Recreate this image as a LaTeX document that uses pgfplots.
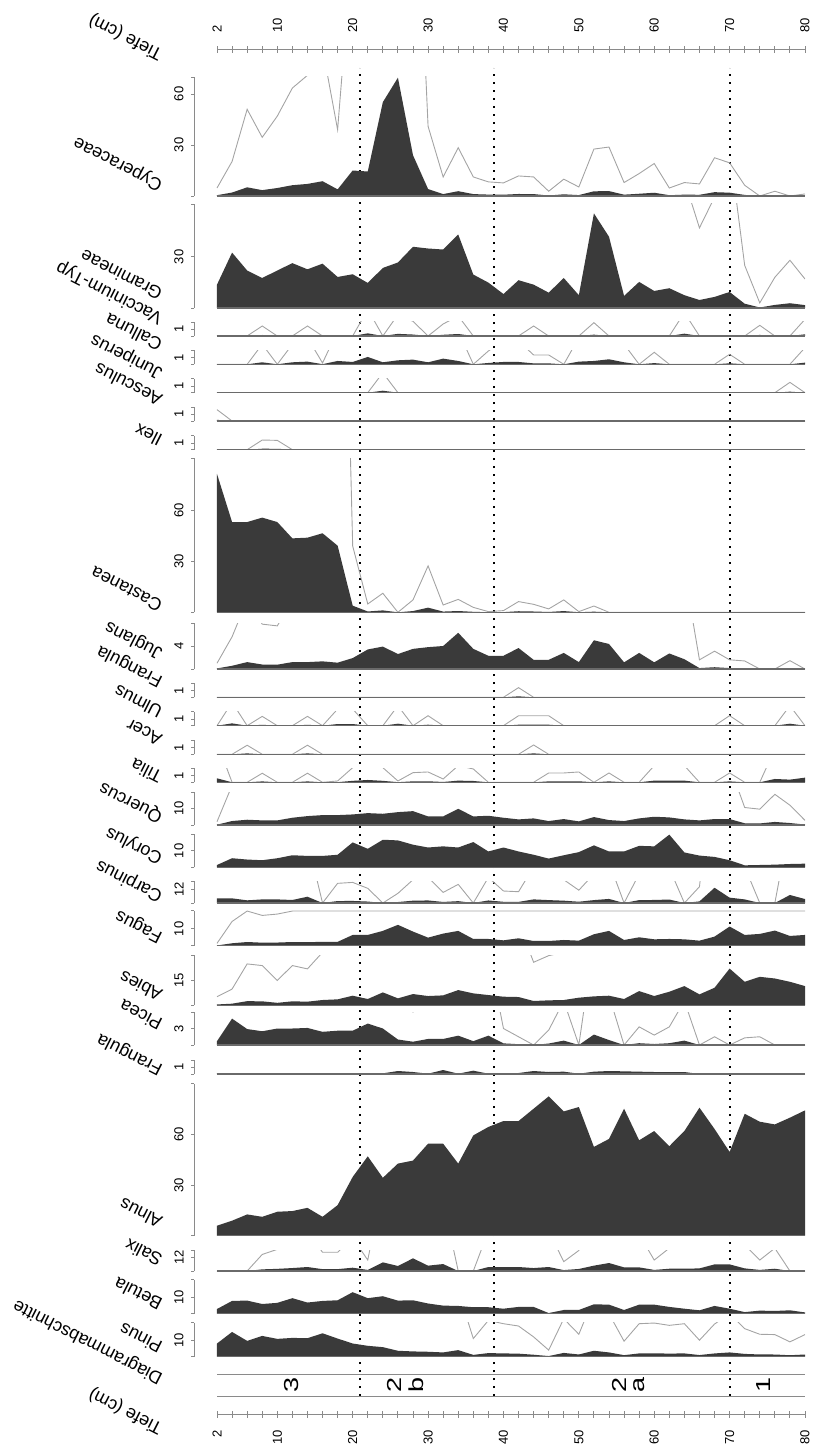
\documentclass[border=0pt]{standalone}
\usepackage{pgfplots}
\usepackage{pgfplotstable}
\pgfplotsset{compat=1.18}
\usepackage{fontspec}
\setmainfont{Liberation Sans}
\definecolor{silh}{HTML}{3A3A3A}
\definecolor{exag}{HTML}{A4A4A4}
\definecolor{axg}{HTML}{8A8A8A}
\definecolor{basec}{HTML}{6A6A6A}
\newcommand{\tfont}{\fontsize{6.5}{7}\selectfont}
\newcommand{\lfont}{\fontsize{9}{10}\selectfont}
\newcommand{\zfont}{\fontsize{13.5}{14}\selectfont}

\pgfplotstableread[row sep=\\]{d v\\2 0.47\\4 2.03\\6 5.1\\8 3.45\\10 4.7\\12 6.35\\14 7.1\\16 8.7\\18 3.9\\20 15\\22 14.4\\24 55.2\\26 69.6\\28 24\\30 4.1\\32 1.12\\34 2.84\\36 1.12\\38 0.83\\40 0.77\\42 1.18\\44 1.12\\46 0.28\\48 0.99\\50 0.53\\52 2.76\\54 2.88\\56 0.79\\58 1.32\\60 1.91\\62 0.47\\64 0.79\\66 0.71\\68 2.25\\70 1.95\\72 0.63\\74 0\\76 0.28\\78 0\\80 0.12\\}\dCyp
\pgfplotstableread[row sep=\\]{d v\\2 13.7\\4 32.5\\6 22\\8 17.6\\10 22\\12 26.3\\14 22.7\\16 26\\18 18.2\\20 19.8\\22 14.7\\24 23.5\\26 26.7\\28 35.9\\30 34.9\\32 34.3\\34 43.1\\36 19.6\\38 14.9\\40 8.2\\42 16.3\\44 13.7\\46 9\\48 17.6\\50 7.5\\52 55.5\\54 41.8\\56 7.1\\58 15.3\\60 10\\62 11.6\\64 7.5\\66 4.7\\68 6.5\\70 9.4\\72 2.5\\74 0.3\\76 1.8\\78 2.8\\80 1.7\\}\dGra
\pgfplotstableread[row sep=\\]{d v\\2 0\\4 0\\6 0\\8 0.15\\10 0\\12 0\\14 0.15\\16 0\\18 0\\20 0\\22 0.4\\24 0\\26 0.32\\28 0.22\\30 0\\32 0.18\\34 0.3\\36 0\\38 0\\40 0\\42 0\\44 0.15\\46 0\\48 0\\50 0\\52 0.2\\54 0\\56 0\\58 0\\60 0\\62 0\\64 0.35\\66 0\\68 0\\70 0\\72 0\\74 0.16\\76 0\\78 0\\80 0.25\\}\dVac
\pgfplotstableread[row sep=\\]{d v\\2 0\\4 0\\6 0\\8 0.3\\10 0\\12 0.3\\14 0.4\\16 0.02\\18 0.5\\20 0.35\\22 1.1\\24 0.3\\26 0.6\\28 0.7\\30 0.3\\32 0.85\\34 0.5\\36 0\\38 0.2\\40 0.35\\42 0.35\\44 0.14\\46 0.14\\48 0\\50 0.4\\52 0.5\\54 0.75\\56 0.3\\58 0\\60 0.18\\62 0\\64 0\\66 0\\68 0\\70 0.15\\72 0\\74 0\\76 0\\78 0\\80 0.25\\}\dCal
\pgfplotstableread[row sep=\\]{d v\\2 0\\4 0\\6 0\\8 0\\10 0\\12 0\\14 0\\16 0\\18 0\\20 0\\22 0\\24 0.3\\26 0\\28 0\\30 0\\32 0\\34 0\\36 0\\38 0\\40 0\\42 0\\44 0\\46 0\\48 0\\50 0\\52 0\\54 0\\56 0\\58 0\\60 0\\62 0\\64 0\\66 0\\68 0\\70 0\\72 0\\74 0\\76 0\\78 0.155\\80 0\\}\dJun
\pgfplotstableread[row sep=\\]{d v\\2 0.17\\4 0\\6 0\\8 0\\10 0\\12 0\\14 0\\16 0\\18 0\\20 0\\22 0\\24 0\\26 0\\28 0\\30 0\\32 0\\34 0\\36 0\\38 0\\40 0\\42 0\\44 0\\46 0\\48 0\\50 0\\52 0\\54 0\\56 0\\58 0\\60 0\\62 0\\64 0\\66 0\\68 0\\70 0\\72 0\\74 0\\76 0\\78 0\\80 0\\}\dAes
\pgfplotstableread[row sep=\\]{d v\\2 0\\4 0\\6 0\\8 0.145\\10 0.14\\12 0\\14 0\\16 0\\18 0\\20 0\\22 0\\24 0\\26 0\\28 0\\30 0\\32 0\\34 0\\36 0\\38 0\\40 0\\42 0\\44 0\\46 0\\48 0\\50 0\\52 0\\54 0\\56 0\\58 0\\60 0\\62 0\\64 0\\66 0\\68 0\\70 0\\72 0\\74 0\\76 0\\78 0\\80 0\\}\dIle
\pgfplotstableread[row sep=\\]{d v\\2 81.4\\4 53.1\\6 53.1\\8 55.7\\10 53.1\\12 43.5\\14 43.9\\16 46.5\\18 39.2\\20 3.9\\22 0.49\\24 1.12\\26 0\\28 0.73\\30 2.73\\32 0.43\\34 0.76\\36 0.29\\38 0.04\\40 0.1\\42 0.63\\44 0.47\\46 0.2\\48 0.73\\50 0.04\\52 0.37\\54 0\\56 0\\58 0\\60 0\\62 0\\64 0\\66 0\\68 0\\70 0\\72 0\\74 0\\76 0\\78 0\\80 0\\}\dCas
\pgfplotstableread[row sep=\\]{d v\\2 0.1\\4 0.56\\6 1.2\\8 0.78\\10 0.75\\12 1.2\\14 1.2\\16 1.33\\18 1.1\\20 1.9\\22 3.4\\24 3.9\\26 2.6\\28 3.5\\30 3.8\\32 4.0\\34 6.3\\36 3.5\\38 2.3\\40 2.3\\42 3.65\\44 1.6\\46 1.6\\48 2.8\\50 1.2\\52 5.0\\54 4.35\\56 1.16\\58 2.8\\60 1.16\\62 2.7\\64 1.7\\66 0.16\\68 0.31\\70 0.16\\72 0.14\\74 0\\76 0\\78 0.145\\80 0\\}\dJug
\pgfplotstableread[row sep=\\]{d v\\2 0\\4 0\\6 0\\8 0\\10 0\\12 0\\14 0\\16 0\\18 0\\20 0\\22 0\\24 0\\26 0\\28 0\\30 0\\32 0\\34 0\\36 0\\38 0\\40 0\\42 0.145\\44 0\\46 0\\48 0\\50 0\\52 0\\54 0\\56 0\\58 0\\60 0\\62 0\\64 0\\66 0\\68 0\\70 0\\72 0\\74 0\\76 0\\78 0\\80 0\\}\dFra
\pgfplotstableread[row sep=\\]{d v\\2 0\\4 0.35\\6 0\\8 0.14\\10 0\\12 0\\14 0.14\\16 0\\18 0.25\\20 0.25\\22 0\\24 0\\26 0.3\\28 0\\30 0.15\\32 0\\34 0\\36 0\\38 0\\40 0\\42 0.15\\44 0.15\\46 0.15\\48 0\\50 0\\52 0\\54 0\\56 0\\58 0\\60 0\\62 0\\64 0\\66 0\\68 0\\70 0.15\\72 0\\74 0\\76 0\\78 0.3\\80 0\\}\dUlm
\pgfplotstableread[row sep=\\]{d v\\2 0\\4 0\\6 0.136\\8 0\\10 0\\12 0\\14 0.136\\16 0\\18 0\\20 0\\22 0\\24 0\\26 0\\28 0\\30 0\\32 0\\34 0\\36 0\\38 0\\40 0\\42 0\\44 0.14\\46 0\\48 0\\50 0\\52 0\\54 0\\56 0\\58 0\\60 0\\62 0\\64 0\\66 0\\68 0\\70 0\\72 0\\74 0\\76 0\\78 0\\80 0\\}\dAce
\pgfplotstableread[row sep=\\]{d v\\2 0.6\\4 0\\6 0\\8 0.136\\10 0\\12 0\\14 0.136\\16 0\\18 0.02\\20 0.22\\22 0.35\\24 0.22\\26 0.02\\28 0.145\\30 0.155\\32 0.05\\34 0.25\\36 0.2\\38 0\\40 0\\42 0\\44 0\\46 0.14\\48 0.14\\50 0.155\\52 0\\54 0.14\\56 0\\58 0\\60 0.25\\62 0.25\\64 0.25\\66 0\\68 0\\70 0.14\\72 0\\74 0\\76 0.5\\78 0.4\\80 0.7\\}\dTil
\pgfplotstableread[row sep=\\]{d v\\2 0.2\\4 2.4\\6 3.2\\8 2.8\\10 2.8\\12 4.4\\14 5.4\\16 6\\18 6\\20 6.4\\22 7.2\\24 6.8\\26 7.8\\28 8.4\\30 5.2\\32 5.2\\34 9.8\\36 5.2\\38 5.6\\40 4.4\\42 3.4\\44 4\\46 2.4\\48 3.6\\50 2.2\\52 4.8\\54 3\\56 2.4\\58 4\\60 5\\62 4.6\\64 3.4\\66 2.8\\68 3.6\\70 3.6\\72 1.06\\74 0.96\\76 1.86\\78 1.2\\80 0.28\\}\dQue
\pgfplotstableread[row sep=\\]{d v\\2 1.4\\4 5.5\\6 4.7\\8 4.3\\10 5.5\\12 7.3\\14 6.9\\16 6.9\\18 7.6\\20 15.1\\22 11.2\\24 16.7\\26 16.3\\28 13.7\\30 12\\32 12.7\\34 12\\36 15.3\\38 9.6\\40 12\\42 9.6\\44 7.6\\46 5.3\\48 7.3\\50 9.2\\52 13.3\\54 9.6\\56 9.6\\58 13\\60 12.7\\62 19.8\\64 9\\66 7.1\\68 6.3\\70 4.3\\72 1.2\\74 1.4\\76 1.6\\78 2\\80 2.2\\}\dCor
\pgfplotstableread[row sep=\\]{d v\\2 4\\4 4\\6 2.3\\8 3.1\\10 3.1\\12 2.6\\14 5.4\\16 0\\18 1.69\\20 1.77\\22 1.26\\24 0\\26 0.83\\28 2.0\\30 2.2\\32 0.91\\34 1.6\\36 0\\38 2.2\\40 1.03\\42 0.97\\44 3.1\\46 2.5\\48 2.0\\50 1.1\\52 2.5\\54 3.5\\56 0\\58 2.5\\60 2.6\\62 3.0\\64 0\\66 1.4\\68 13.1\\70 4.6\\72 3.1\\74 0\\76 0\\78 6.9\\80 3.4\\}\dCar
\pgfplotstableread[row sep=\\]{d v\\2 0.14\\4 1.44\\6 2.2\\8 1.8\\10 1.88\\12 2.2\\14 2.1\\16 2.3\\18 2.3\\20 6.4\\22 6.4\\24 8.8\\26 12.4\\28 8.4\\30 4.8\\32 7.2\\34 8.8\\36 4\\38 4\\40 3.2\\42 4.4\\44 2.8\\46 2.8\\48 3.4\\50 3\\52 6.8\\54 8.8\\56 3.4\\58 5\\60 3.8\\62 4\\64 3.8\\66 3\\68 5.4\\70 11.4\\72 6.4\\74 7\\76 9\\78 5.8\\80 6.4\\}\dFag
\pgfplotstableread[row sep=\\]{d v\\2 0.52\\4 0.98\\6 2.5\\8 2.4\\10 1.5\\12 2.4\\14 2.2\\16 3.2\\18 3.6\\20 5.8\\22 3.8\\24 7.8\\26 4.2\\28 6.8\\30 5.6\\32 6\\34 9.2\\36 7.2\\38 6.2\\40 5.2\\42 5\\44 2.6\\46 3\\48 3.2\\50 4.6\\52 5.4\\54 5.8\\56 3.8\\58 8.6\\60 5.6\\62 8.2\\64 11.6\\66 6.6\\68 10.6\\70 22.2\\72 14.2\\74 17.2\\76 16.2\\78 14.2\\80 11.6\\}\dAbi
\pgfplotstableread[row sep=\\]{d v\\2 0.7\\4 4.8\\6 2.9\\8 2.5\\10 3.0\\12 3.0\\14 3.1\\16 2.4\\18 2.6\\20 2.6\\22 3.9\\24 3.0\\26 1.0\\28 0.6\\30 1.1\\32 1.1\\34 1.7\\36 0.7\\38 1.7\\40 0.3\\42 0.15\\44 0\\46 0.27\\48 0.8\\50 0\\52 1.9\\54 0.9\\56 0\\58 0.33\\60 0.18\\62 0.33\\64 0.8\\66 0\\68 0.15\\70 0\\72 0.13\\74 0.15\\76 0\\78 0\\80 0\\}\dPic
\pgfplotstableread[row sep=\\]{d v\\2 0.1\\4 0.1\\6 0.15\\8 0.1\\10 0.1\\12 0.1\\14 0.1\\16 0.1\\18 0.1\\20 0.05\\22 0.05\\24 0.1\\26 0.45\\28 0.3\\30 0.05\\32 0.6\\34 0.05\\36 0.5\\38 0.05\\40 0.1\\42 0.15\\44 0.45\\46 0.3\\48 0.35\\50 0.05\\52 0.35\\54 0.45\\56 0.4\\58 0.35\\60 0.3\\62 0.3\\64 0.3\\66 0\\68 0\\70 0\\72 0\\74 0\\76 0\\78 0\\80 0\\}\dFrb
\pgfplotstableread[row sep=\\]{d v\\2 5.9\\4 8.9\\6 12.6\\8 11.2\\10 14.2\\12 14.6\\14 16.5\\16 11.2\\18 18.1\\20 34.8\\22 47\\24 34.3\\26 42.7\\28 44.5\\30 54.5\\32 54.5\\34 42.7\\36 59.4\\38 64.4\\40 67.9\\42 67.9\\44 75.2\\46 82.5\\48 73.6\\50 76.2\\52 52.6\\54 57.3\\56 75.2\\58 56.5\\60 62\\62 53\\64 62\\66 75.8\\68 63.2\\70 49.6\\72 72.2\\74 67.5\\76 65.9\\78 69.9\\80 74.2\\}\dAln
\pgfplotstableread[row sep=\\]{d v\\2 0\\4 0\\6 0\\8 1.45\\10 1.9\\12 2.6\\14 3.5\\16 1.64\\18 1.64\\20 2.9\\22 0.96\\24 7.6\\26 4.4\\28 11.1\\30 4.7\\32 6.1\\34 0\\36 0\\38 3.5\\40 3.5\\42 3.5\\44 2.6\\46 3.5\\48 0.82\\50 1.8\\52 4.7\\54 7\\56 3.2\\58 3.2\\60 0.96\\62 2.0\\64 2.0\\66 2.3\\68 5.8\\70 5.8\\72 2.3\\74 0.96\\76 2.0\\78 0\\80 0\\}\dSal
\pgfplotstableread[row sep=\\]{d v\\2 2.9\\4 7.9\\6 8.1\\8 6\\10 6.7\\12 9.6\\14 6.9\\16 7.9\\18 8.3\\20 13.3\\22 9.6\\24 10.8\\26 8.1\\28 8.3\\30 6.3\\32 5\\34 4.8\\36 4\\38 4\\40 3.1\\42 4.2\\44 4.2\\46 0.4\\48 2.3\\50 2.3\\52 5.8\\54 5.6\\56 2.3\\58 5.6\\60 5.6\\62 4.2\\64 3.1\\66 2.1\\68 4.8\\70 3.1\\72 1\\74 1.9\\76 1.7\\78 2.1\\80 0.8\\}\dBet
\pgfplotstableread[row sep=\\]{d v\\2 8\\4 15\\6 9.6\\8 12.6\\10 10.8\\12 11.4\\14 11.2\\16 14.2\\18 11\\20 8\\22 6.6\\24 5.8\\26 3.6\\28 3.2\\30 3\\32 2.6\\34 4\\36 1.1\\38 2.2\\40 2.0\\42 1.86\\44 1.2\\46 0.4\\48 2.3\\50 1.36\\52 3.6\\54 2.6\\56 0.94\\58 2.0\\60 2.04\\62 1.9\\64 2.0\\66 1.0\\68 1.98\\70 2.6\\72 1.7\\74 1.36\\76 1.34\\78 0.9\\80 1.34\\}\dPin

\tikzset{
  sil/.style={fill=silh, draw=none},
  ex/.style={exag, line width=0.45pt},
  lab/.style={rotate=153, anchor=north west, inner sep=0pt, font=\lfont},
  zl/.style={xscale=0.75, rotate=90, font=\zfont, inner sep=0pt},
  tk/.style={axg, line width=0.45pt},
  tlab/.style={rotate=90, font=\tfont, inner sep=0pt},
}
\pgfplotsset{
  panel/.style={scale only axis, width=305.5pt, xmin=-1.05, xmax=80, ymin=0,
    anchor=south west, clip mode=individual, hide axis},
  depth/.style={scale only axis, width=294pt, height=2pt, xmin=2, xmax=80, ymin=0, ymax=1,
    axis y line=none, xtick={2,10,20,30,40,50,60,70,80}, minor xtick={4,6,...,78},
    xticklabels={},
    tick align=center, major tick length=3.5pt, minor tick length=3.5pt,
    every tick/.style={axg, line width=0.45pt},
    x axis line style={axg, line width=0.5pt}},
}
\newcommand{\base}{\draw[basec, line width=0.6pt] (axis cs:2,0) -- (axis cs:80,0);}
% value axis of a panel, drawn outside the axis: #1 baseline (pt), #2 height (pt), #3 ymax, #4 ticks
\newcommand{\yax}[4]{%
\draw[tk] (97pt,-#1pt) -- (97pt,{-#1pt+#2pt});
\foreach \t in {0,#3,#4}{\draw[tk] (97pt,{-#1pt+\t/#3*#2pt}) -- ++(-1.3pt,0);}
\foreach \t in {#4}{\node[tlab] at (89.5pt,{-#1pt+\t/#3*#2pt}) {\t};}
}
\newcommand{\panelE}[5]{%
\begin{axis}[panel, at={(97pt,-#1pt)}, height=#2pt, ymax=#3]
\addplot[sil] table[x=d,y=v]{#5} \closedcycle;
\addplot[ex] table[x=d,y expr=10*\thisrow{v}]{#5};
\base
\end{axis}
\yax{#1}{#2}{#3}{#4}}
\newcommand{\panelN}[5]{%
\begin{axis}[panel, at={(97pt,-#1pt)}, height=#2pt, ymax=#3]
\addplot[sil] table[x=d,y=v]{#5} \closedcycle;
\base
\end{axis}
\yax{#1}{#2}{#3}{#4}}
\newcommand{\tl}[2]{\node[lab] at (79pt,-#1pt) {#2};}

\begin{document}
\begin{tikzpicture}
\path[use as bounding box] (0,0) rectangle (410.5pt,-722pt);
% zone boundaries
\begin{axis}[scale only axis, width=305.5pt, height=664pt, at={(97pt,-698pt)}, anchor=south west,
  xmin=-1.05, xmax=80, ymin=0, ymax=1, hide axis]
\addplot[black, line width=1pt, dash pattern=on 0.9pt off 3.1pt] coordinates {(21,0) (21,1)};
\addplot[black, line width=1pt, dash pattern=on 0.9pt off 3.1pt] coordinates {(38.8,0) (38.8,1)};
\addplot[black, line width=1pt, dash pattern=on 0.9pt off 3.1pt] coordinates {(70,0) (70,1)};
\end{axis}
% depth axes
\begin{axis}[depth, at={(108.5pt,-25pt)}, anchor=north west, axis x line*=top]
\end{axis}
\begin{axis}[depth, at={(108.5pt,-707pt)}, anchor=south west, axis x line*=bottom]
\end{axis}
\foreach \d in {2,10,20,30,40,50,60,70,80}{
  \node[tlab, anchor=west] at ({108.5pt+(\d-2)*3.7692pt},-16.5pt) {\d};
  \node[tlab, anchor=east] at ({108.5pt+(\d-2)*3.7692pt},-715pt) {\d};
}
% panels
\panelE{98}{59.5}{70}{30,60}{\dCyp}
\panelE{154}{52}{61}{30}{\dGra}
\panelE{168}{7}{2.1}{1}{\dVac}
\panelE{182.15}{7}{2.1}{1}{\dCal}
\panelE{196.35}{7}{2.1}{1}{\dJun}
\panelE{210.5}{7}{2.1}{1}{\dAes}
\panelE{224.85}{7}{2.1}{1}{\dIle}
\panelE{306.15}{77}{90.6}{30,60}{\dCas}
\panelE{334.5}{23}{8}{4}{\dJug}
\panelE{348.65}{7}{2.1}{1}{\dFra}
\panelE{362.85}{7}{2.1}{1}{\dUlm}
\panelE{377.15}{7}{2.1}{1}{\dAce}
\panelE{391.15}{7}{2.1}{1}{\dTil}
\panelE{412.5}{16.5}{20}{10}{\dQue}
\panelN{433.65}{16.5}{20}{10}{\dCor}
\panelE{451.5}{11}{18.9}{12}{\dCar}
\begin{axis}[panel, at={(97pt,-472.85pt)}, height=17.5pt, ymax=20.8]
\addplot[sil] table[x=d,y=v]{\dFag} \closedcycle;
\addplot[ex] table[x=d,y expr={min(10*\thisrow{v},20.6)}]{\dFag};
\base
\end{axis}
\yax{472.85}{17.5}{20.8}{10}
\panelE{502.65}{25}{30.2}{15}{\dAbi}
\panelE{522.5}{16.5}{6}{3}{\dPic}
\panelN{537}{7}{2.1}{1}{\dFrb}
\panelN{617.85}{76}{90}{30,60}{\dAln}
\panelE{635.5}{10.5}{18.4}{12}{\dSal}
\panelN{656.85}{17}{21}{10}{\dBet}
\panelE{678.35}{17}{20.6}{10}{\dPin}
% zone band
\draw[axg, line width=0.5pt] (108.5pt,-687pt) -- (402.5pt,-687pt);
\draw[axg, line width=0.5pt] (108.5pt,-698pt) -- (402.5pt,-698pt);
\node[zl] at (146pt,-692.5pt) {3};
\node[zl] at (197pt,-692.5pt) {2};
\node[zl] at (208pt,-692.5pt) {b};
\node[zl] at (309.5pt,-692.5pt) {2};
\node[zl] at (319.5pt,-692.5pt) {a};
\node[zl] at (382pt,-692.5pt) {1};
% labels
\tl{31.5}{Tiefe (cm)}
\tl{96.5}{Cyperaceae}
\tl{151}{Gramineae}
\tl{163.5}{Vaccinium-Typ}
\tl{176.5}{Calluna}
\tl{191}{Juniperus}
\tl{204}{Aesculus}
\tl{224}{Ilex}
\tl{306.5}{Castanea}
\tl{331}{Juglans}
\tl{345}{Frangula}
\tl{360}{Ulmus}
\tl{373.5}{Acer}
\tl{392.5}{Tilia}
\tl{412.5}{Quercus}
\tl{433.5}{Corylus}
\tl{452.5}{Carpinus}
\tl{472.5}{Fagus}
\tl{501.5}{Abies}
\tl{516}{Picea}
\tl{539}{Frangula}
\tl{615}{Alnus}
\tl{634}{Salix}
\tl{656}{Betula}
\tl{677.5}{Pinus}
\tl{693.5}{Diagrammabschnitte}
\tl{718.5}{Tiefe (cm)}
\end{tikzpicture}
\end{document}
